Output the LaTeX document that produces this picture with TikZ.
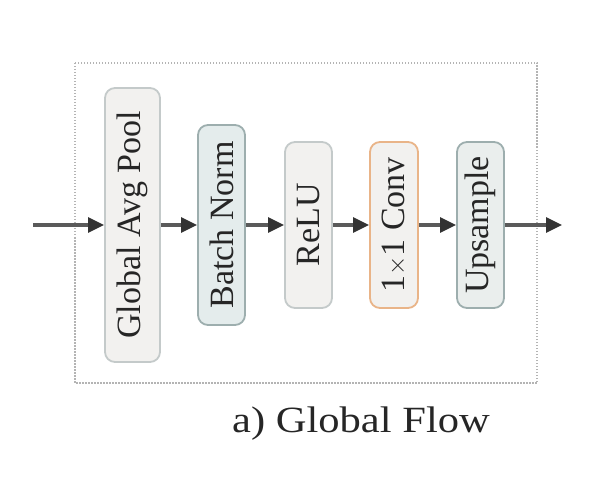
\documentclass[tikz,border=0pt]{standalone}
\usepackage{fontspec}
\setmainfont{Liberation Serif}
\usetikzlibrary{arrows.meta}

\definecolor{fleche}{HTML}{5A5A5A}
\definecolor{pointe}{HTML}{333333}
\definecolor{cadre}{HTML}{B4B4B4}
\definecolor{fondgris}{HTML}{F2F1EF}
\definecolor{fondbleu}{HTML}{E4ECEC}
\definecolor{bordgris}{HTML}{C4CACA}
\definecolor{bordbleu}{HTML}{9DAEAE}
\definecolor{bordorange}{HTML}{E9B488}

\begin{document}
\begin{tikzpicture}[x=1bp,y=-1bp,
    bloc/.style={draw, rounded corners=10bp, line width=1.8bp, rotate=90,
      inner sep=0pt, minimum height=47bp, minimum width=166bp,
      text=black!85, font=\fontsize{34bp}{40bp}\selectfont},
    lien/.style={-{Triangle[length=16bp,width=15bp,color=pointe]}, line width=3bp, color=fleche}]

        \useasboundingbox (0,0) rectangle (608,484);

        % cadre en pointilles
        \draw[cadre, line width=1.5bp, dash pattern=on 1.5bp off 1.5bp] (75,63) rectangle (537,383);

        \draw (33,225) coordinate (entree);
        \draw (562,225) coordinate (sortie);

        % dessin des blocs
        \draw (132.5,225) node[bloc, fill=fondgris, draw=bordgris, minimum width=274bp, minimum height=55bp] (pool) {Global Avg Pool};
        \draw (221.5,225) node[bloc, fill=fondbleu, draw=bordbleu, minimum width=200bp] (bn) {Batch Norm};
        \draw (308.5,225) node[bloc, fill=fondgris, draw=bordgris] (relu) {ReLU};
        \draw (394,225) node[bloc, fill=fondgris, draw=bordorange, minimum height=48bp] (conv) {1$\times$1 Conv};
        \draw (480.5,225) node[bloc, fill=fondbleu!60!fondgris, draw=bordbleu] (up) {Upsample};

        % liens entre les blocs
        \draw[lien] (entree) -- (pool.north);
        \draw[lien] (pool.south) -- (bn.north);
        \draw[lien] (bn.south) -- (relu.north);
        \draw[lien] (relu.south) -- (conv.north);
        \draw[lien] (conv.south) -- (up.north);
        \draw[lien] (up.south) -- (sortie);

        % legende
        \draw (361,432) node[anchor=base, xscale=1.15, text=black!85, font=\fontsize{37bp}{44bp}\selectfont] (titre) {a) Global Flow};
    \end{tikzpicture}
\end{document}
